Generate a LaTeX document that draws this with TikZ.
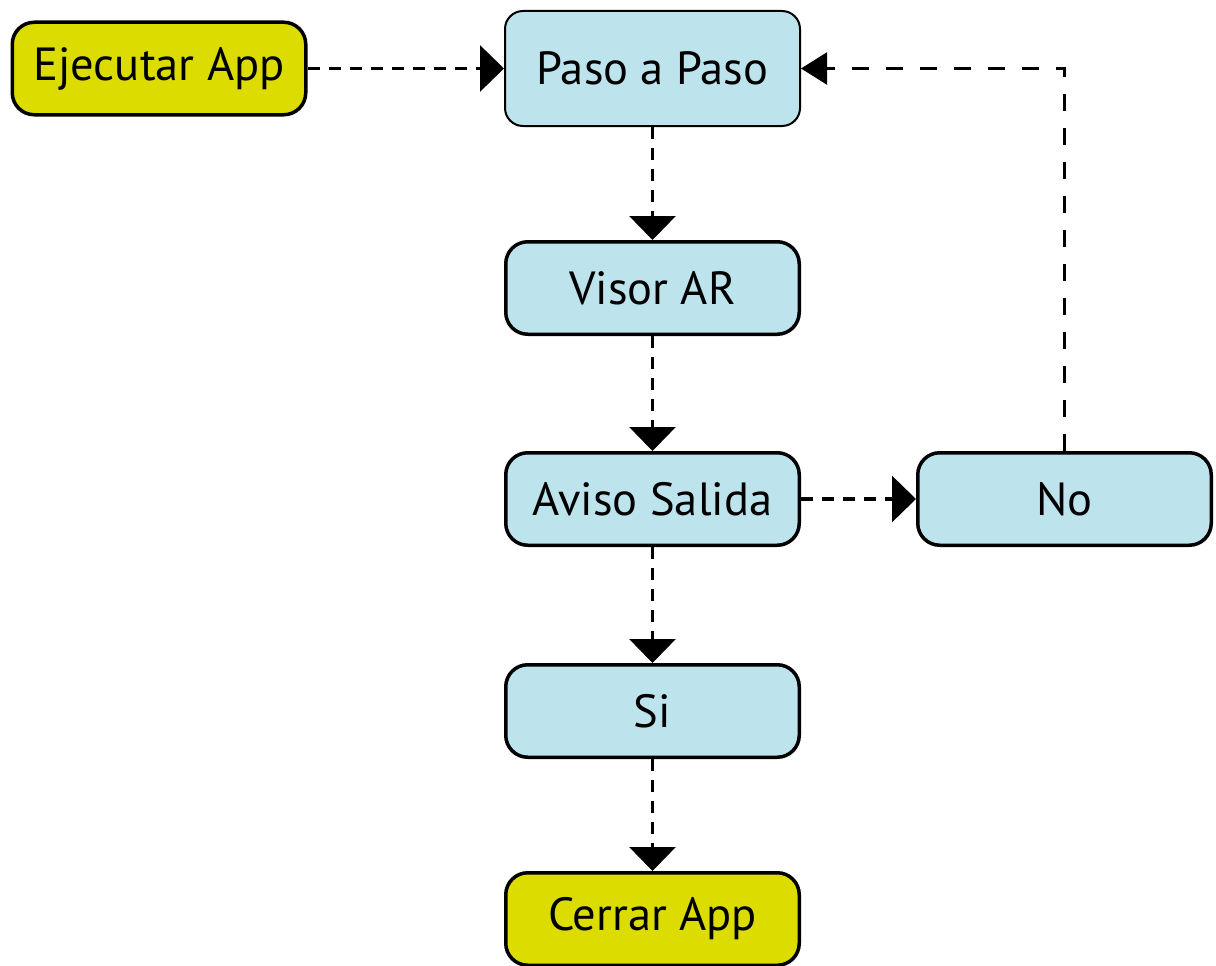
\documentclass[tikz,border=0pt]{standalone}
\usepackage{fontspec}
\setmainfont{PT Sans}
\usetikzlibrary{arrows.meta}
\definecolor{appyellow}{RGB}{220,220,0}
\definecolor{stepblue}{RGB}{189,227,237}
\tikzset{
  box/.style={rounded corners=22pt, draw=black, line width=3.5pt, fill=stepblue,
    minimum width=293.5pt, minimum height=92.5pt, inner sep=0pt,
    font=\fontsize{46.5}{52}\selectfont, text=black},
  appbox/.style={box, fill=appyellow},
  flow/.style={line width=3.2pt, dash pattern=on 12pt off 9pt,
    -{Triangle[length=24pt,width=46pt]}},
  back/.style={line width=2.2pt, dash pattern=on 17pt off 17pt,
    -{Triangle[length=26pt,width=32pt]}}
}
\begin{document}
\begin{tikzpicture}[x=1pt,y=-1pt]
\useasboundingbox (0,0) rectangle (1216,966);
\node[appbox] (ej) at (159,68.5) {Ejecutar App};
\node[box, line width=2pt, minimum width=295pt, minimum height=115pt, rounded corners=18pt] (paso) at (652.5,68.5) {Paso a Paso};
\node[box] (visor) at (652.5,288) {Visor AR};
\node[box] (aviso) at (652.5,499) {Aviso Salida};
\node[box] (no) at (1064.5,499) {No};
\node[box] (si) at (652.5,711) {Si};
\node[appbox] (cerrar) at (652.5,919) {Cerrar App};
\draw[flow] (ej.east) -- (paso.west);
\draw[flow] (paso.south) -- (visor.north);
\draw[flow] (visor.south) -- (aviso.north);
\draw[flow] (aviso.east) -- (no.west);
\draw[flow] (aviso.south) -- (si.north);
\draw[flow] (si.south) -- (cerrar.north);
\draw[back] (no.north) -- (no.north |- paso.east) -- (paso.east);
\end{tikzpicture}
\end{document}
